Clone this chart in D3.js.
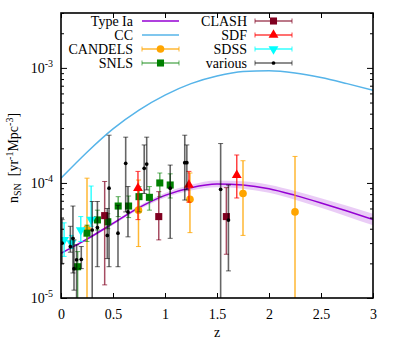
<!DOCTYPE html>
<html><head><meta charset="utf-8">
<script src="https://cdn.jsdelivr.net/npm/d3@7"></script>
<style>body{margin:0;background:#fff}svg text{font-family:'Liberation Serif','DejaVu Serif',serif !important;fill:#000}</style>
</head><body><svg id="c" width="399" height="343" font-family="Liberation Serif"></svg>
<script>
// ---- data ----
const curveZ = [0,0.25,0.5,0.75,1,1.25,1.5,1.75,2,2.25,2.5,2.75,3];
const ccRate = [1.1e-4,1.85e-4,2.95e-4,4.3e-4,5.8e-4,7.3e-4,8.5e-4,9.3e-4,9.45e-4,9.05e-4,8.25e-4,7.3e-4,6.4e-4];
const iaRate = [2.45e-5,3.25e-5,4.45e-5,6.1e-5,7.8e-5,9.1e-5,9.8e-5,9.6e-5,8.9e-5,7.8e-5,6.7e-5,5.7e-5,4.8e-5];
const iaLow  = [2.41e-5,3.18e-5,4.32e-5,5.87e-5,7.43e-5,8.59e-5,9.17e-5,8.92e-5,8.21e-5,7.15e-5,6.08e-5,5.12e-5,4.28e-5];
const iaHigh = [2.50e-5,3.33e-5,4.58e-5,6.35e-5,8.19e-5,9.64e-5,1.048e-4,1.033e-4,9.65e-5,8.51e-5,7.38e-5,6.34e-5,5.39e-5];
// [z, rate, lower, upper]
const candels = [[0.25,4.0e-5,5e-6,1.1e-4],[0.745,5.8e-5,2.8e-5,1.06e-4],[1.24,7.2e-5,3.7e-5,1.22e-4],[1.75,8.1e-5,3.5e-5,1.56e-4],[2.25,5.6e-5,5e-6,1.7e-4]];
const snls = [[0.16,1.87e-5,8e-6,2.53e-5],[0.25,3.66e-5,3.1e-5,4.3e-5],[0.35,4.77e-5,3.9e-5,5.8e-5],[0.45,4.6e-5,4.0e-5,5.4e-5],[0.55,6.3e-5,5.1e-5,7.6e-5],[0.65,6.3e-5,5.0e-5,7.7e-5],[0.75,7.6e-5,5.6e-5,9.3e-5],[0.85,7.5e-5,5.8e-5,9.3e-5],[0.95,1.0e-4,7.6e-5,1.22e-4],[1.05,9.6e-5,7.4e-5,1.2e-4]];
const clash = [[0.42,5.2e-5,1.3e-5,1.03e-4],[0.94,5.1e-5,3.2e-5,8.4e-5],[1.59,5.1e-5,2.4e-5,9.1e-5]];
const sdf = [[0.74,9.0e-5,4.8e-5,1.26e-4],[1.23,9.6e-5,6.8e-5,1.26e-4],[1.69,1.17e-4,7.4e-5,1.75e-4]];
const sdss = [[0.03,3.2e-5,2.3e-5,4.5e-5],[0.10,3.0e-5,2.7e-5,3.5e-5],[0.19,3.9e-5,3.1e-5,5.1e-5],[0.29,4.8e-5,4.2e-5,9.4e-5]];
const various = [[0.01,3.0e-5,2.0e-5,4.8e-5],[0.09,2.8e-5,2.5e-5,4.2e-5],[0.115,3.3e-5,1.65e-5,6.3e-5],[0.125,1.8e-5,1.17e-5,3.2e-5],[0.15,2.15e-5,8e-6,2.9e-5],[0.195,2.17e-5,1.8e-5,2.8e-5],[0.30,3.9e-5,9.6e-6,6.9e-5],[0.35,4.1e-5,1.87e-5,6.9e-5],[0.445,3.5e-5,2.2e-5,6.0e-5],[0.462,9.0e-5,1.87e-5,2.6e-4],[0.548,3.66e-5,1.87e-5,6.4e-5],[0.622,1.48e-4,5.6e-5,2.5e-4],[0.644,5.6e-5,3.4e-5,9.3e-5],[0.80,1.34e-4,8.1e-5,2.14e-4],[0.824,1.46e-4,8.7e-5,2.5e-4],[1.05,9.0e-5,3.3e-5,1.43e-4],[1.19,1.5e-4,7.1e-5,2.6e-4],[1.21,1.5e-4,8.7e-5,2.14e-4],[1.535,8.8e-5,5e-6,2.2e-4],[1.61,4.76e-5,1.72e-5,9.6e-5]];
const xTicks = [0,0.5,1,1.5,2,2.5,3];
const xTickLabels = ["0","0.5","1","1.5","2","2.5","3"];
const yMajor = [1e-5,1e-4,1e-3];
const yExpLabels = ["-5","-4","-3"];
const legendLeft = ["Type Ia","CC","CANDELS","SNLS"];
const legendRight = ["CLASH","SDF","SDSS","various"];

// ---- layout ----
const FONT="Liberation Serif";
const L=61,R=373,T=13,B=298;
const svg=d3.select("#c");
const x=d3.scaleLinear().domain([0,3]).range([L,R]);
const y=d3.scaleLog().domain([1e-5,3e-3]).range([B,T]);
svg.append("clipPath").attr("id","clip").append("rect").attr("x",L).attr("y",T).attr("width",R-L).attr("height",B-T);
const plot=svg.append("g").attr("clip-path","url(#clip)");

// band + curves
const band=d3.area().x((d,i)=>x(curveZ[i])).y0((d,i)=>y(iaLow[i])).y1((d,i)=>y(iaHigh[i])).curve(d3.curveMonotoneX);
plot.append("path").attr("d",band(curveZ)).attr("fill","#9400d3").attr("fill-opacity",0.2);
const line=arr=>d3.line().x((d,i)=>x(curveZ[i])).y((d,i)=>y(arr[i])).curve(d3.curveMonotoneX)(curveZ);
plot.append("path").attr("d",line(ccRate)).attr("fill","none").attr("stroke","#56b4e9").attr("stroke-width",1.5);
plot.append("path").attr("d",line(iaRate)).attr("fill","none").attr("stroke","#9400d3").attr("stroke-width",1.5);

const series=[
 {data:candels,color:"#ffa500",sym:d3.symbolCircle,size:46,rot:0,bw:1.5,bo:0.8},
 {data:snls,color:"#008000",sym:d3.symbolSquare,size:50,rot:0,bw:1.5,bo:0.6},
 {data:clash,color:"#800020",sym:d3.symbolSquare,size:50,rot:0,bw:1.5,bo:0.7},
 {data:sdf,color:"#ff0000",sym:d3.symbolTriangle,size:42,rot:0,bw:1.5,bo:0.75},
 {data:sdss,color:"#00ffff",sym:d3.symbolTriangle,size:42,rot:180,bw:1.5,bo:0.8},
 {data:various,color:"#000000",sym:d3.symbolCircle,size:11,rot:0,bw:1.6,bo:0.6}
];
series.forEach(s=>{
  const g=plot.append("g");
  const eb=g.append("g").attr("stroke",s.color).attr("stroke-width",s.bw).attr("stroke-opacity",s.bo);
  s.data.forEach(d=>{
    const cx=x(d[0]);
    eb.append("line").attr("x1",cx).attr("x2",cx).attr("y1",y(d[2])).attr("y2",y(d[3]));
    [d[2],d[3]].forEach(v=>eb.append("line").attr("x1",cx-2.5).attr("x2",cx+2.5).attr("y1",y(v)).attr("y2",y(v)).attr("stroke-width",1));
  });
  g.selectAll("path.m").data(s.data).enter().append("path").attr("class","m")
   .attr("d",d3.symbol().type(s.sym).size(s.size))
   .attr("transform",d=>`translate(${x(d[0])},${y(d[1])}) rotate(${s.rot})`)
   .attr("fill",s.color);
});

// axes
const fs=14;
const ax=svg.append("g").attr("transform",`translate(0,${B})`).call(d3.axisBottom(x).tickValues(xTicks).tickFormat((d,i)=>xTickLabels[i]).tickSizeInner(-5).tickSizeOuter(0).tickPadding(11));
svg.append("g").attr("transform",`translate(0,${T})`).call(d3.axisTop(x).tickValues(xTicks).tickFormat("").tickSizeInner(-5).tickSizeOuter(0));
const minors=[];
[1e-5,1e-4,1e-3].forEach(dec=>{for(let k=2;k<=9;k++){const v=dec*k;if(v<=3e-3)minors.push(v);}});
svg.append("g").attr("transform",`translate(${L},0)`).call(d3.axisLeft(y).tickValues(minors).tickFormat("").tickSizeInner(-3).tickSizeOuter(0));
svg.append("g").attr("transform",`translate(${R},0)`).call(d3.axisRight(y).tickValues(minors).tickFormat("").tickSizeInner(-3).tickSizeOuter(0));
svg.append("g").attr("transform",`translate(${R},0)`).call(d3.axisRight(y).tickValues(yMajor).tickFormat("").tickSizeInner(-6).tickSizeOuter(0));
svg.append("g").attr("transform",`translate(${L},0)`).call(d3.axisLeft(y).tickValues(yMajor).tickFormat("").tickSizeInner(-6).tickSizeOuter(0));
svg.selectAll(".domain").remove();
svg.selectAll("g").filter(function(){return this.getAttribute("font-family");}).attr("font-family",FONT);
svg.selectAll(".tick line").attr("stroke","#000").attr("stroke-width",1);
ax.selectAll("text").attr("font-size",fs).attr("font-family",FONT).attr("fill","#000");
yMajor.forEach((v,i)=>{
  const t=svg.append("text").attr("x",53).attr("y",y(v)+5).attr("text-anchor","end").attr("font-size",fs).attr("font-family",FONT);
  t.append("tspan").text("10");
  t.append("tspan").attr("dy",-6).attr("font-size",10).text(yExpLabels[i]);
});
svg.append("rect").attr("x",L).attr("y",T).attr("width",R-L).attr("height",B-T).attr("fill","none").attr("stroke","#000").attr("stroke-width",1.6);

// labels
svg.append("text").attr("x",(L+R)/2).attr("y",337).attr("text-anchor","middle").attr("font-size",fs).attr("font-family",FONT).text("z");
const yl=svg.append("text").attr("transform","translate(18,158) rotate(-90)").attr("text-anchor","middle").attr("font-size",fs).attr("font-family",FONT).attr("xml:space","preserve");
yl.append("tspan").text("n");
yl.append("tspan").attr("dy",3).attr("font-size",10).text("SN");
yl.append("tspan").attr("dy",-3).text("  [yr");
yl.append("tspan").attr("dy",-5).attr("font-size",10).text("-1");
yl.append("tspan").attr("dy",5).text("Mpc");
yl.append("tspan").attr("dy",-5).attr("font-size",10).text("-3");
yl.append("tspan").attr("dy",5).text("]");

// legend
const rows=[21,35,49,63];
function legendItem(label,tx,x0,x1,yy,s,isLine,color){
  svg.append("text").attr("x",tx).attr("y",yy+5).attr("text-anchor","end").attr("font-size",fs).attr("font-family",FONT).text(label);
  if(isLine){
    svg.append("line").attr("x1",x0).attr("x2",x1).attr("y1",yy).attr("y2",yy).attr("stroke",color).attr("stroke-width",1.5);
    return;
  }
  const g=svg.append("g").attr("stroke",s.color).attr("stroke-opacity",s.bo);
  g.append("line").attr("x1",x0).attr("x2",x1).attr("y1",yy).attr("y2",yy).attr("stroke-width",1.5);
  [x0,x1].forEach(xx=>g.append("line").attr("x1",xx).attr("x2",xx).attr("y1",yy-2.5).attr("y2",yy+2.5).attr("stroke-width",1));
  svg.append("path").attr("d",d3.symbol().type(s.sym).size(s.size)).attr("transform",`translate(${(x0+x1)/2},${yy}) rotate(${s.rot})`).attr("fill",s.color);
}
legendItem(legendLeft[0],133,142,179,rows[0],null,true,"#9400d3");
legendItem(legendLeft[1],133,142,179,rows[1],null,true,"#56b4e9");
legendItem(legendLeft[2],133,142,179,rows[2],series[0],false);
legendItem(legendLeft[3],133,142,179,rows[3],series[1],false);
legendItem(legendRight[0],247,255,292,rows[0],series[2],false);
legendItem(legendRight[1],247,255,292,rows[1],series[3],false);
legendItem(legendRight[2],247,255,292,rows[2],series[4],false);
legendItem(legendRight[3],247,255,292,rows[3],series[5],false);
</script></body></html>
